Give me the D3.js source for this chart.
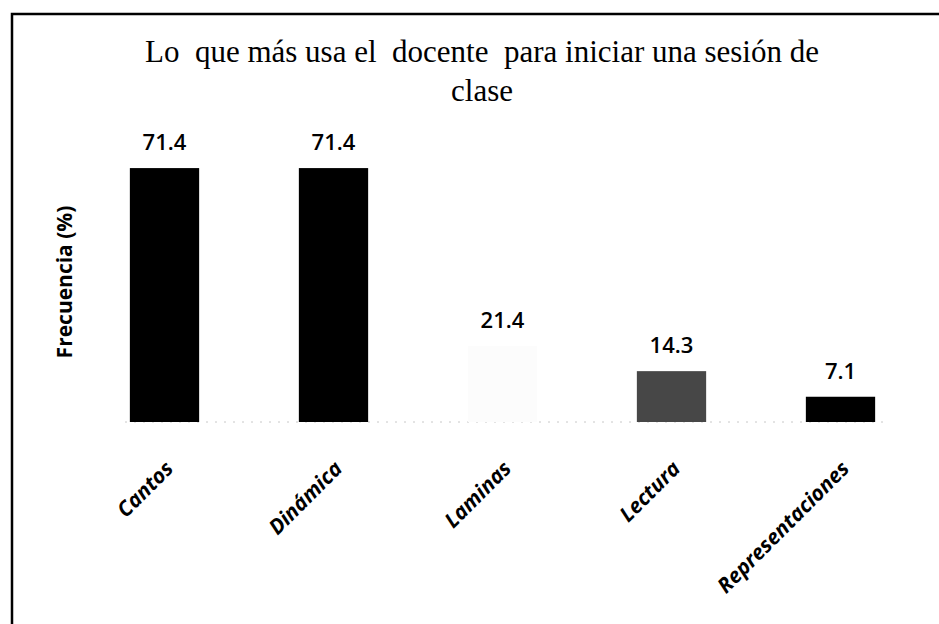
<!DOCTYPE html>
<html>
<head>
<meta charset="utf-8">
<script src="https://cdn.jsdelivr.net/npm/d3@7"></script>
<style>
  body { margin: 0; background: #fff; }
  svg { display: block; }
</style>
</head>
<body>
<svg width="939" height="624"></svg>
<script>
const categories = ['Cantos', 'Dinámica', 'Laminas', 'Lectura', 'Representaciones'];
const values = [71.4, 71.4, 21.4, 14.3, 7.1];
const barColors = ['#000000', '#000000', '#fcfcfc', '#474747', '#000000'];
const titleLines = ['Lo  que más usa el  docente  para iniciar una sesión de', 'clase'];
const yLabel = 'Frecuencia (%)';

const svg = d3.select('svg');
const width = +svg.attr('width');
const height = +svg.attr('height');

// frame (right and bottom edges run off the page, as in the scan)
svg.append('path')
    .attr('d', `M12,${height + 5} L12,14 L${width + 5},14`)
    .attr('fill', 'none')
    .attr('stroke', '#000')
    .attr('stroke-width', 2.5);

const x = d3.scaleBand()
    .domain(categories)
    .range([80, 925])
    .paddingInner(0.59)
    .paddingOuter(0.295);

const y = d3.scaleLinear()
    .domain([0, 80])
    .range([422, 137.5]);

// title
const title = svg.append('text')
    .attr('x', 482)
    .attr('y', 62)
    .attr('text-anchor', 'middle')
    .style('font-family', '"Liberation Serif", "Times New Roman", serif')
    .style('font-size', '31px')
    .style('white-space', 'pre')
    .attr('xml:space', 'preserve');
title.selectAll('tspan')
    .data(titleLines)
    .join('tspan')
    .attr('x', 482)
    .attr('dy', (d, i) => i === 0 ? 0 : 39)
    .text(d => d);

// y axis title
svg.append('text')
    .attr('transform', `translate(72, 282) rotate(-90)`)
    .attr('text-anchor', 'middle')
    .style('font-family', '"Open Sans", sans-serif')
    .style('font-weight', 700)
    .style('font-size', '21px')
    .text(yLabel);

// faint baseline
svg.append('line')
    .attr('x1', 125)
    .attr('x2', 885)
    .attr('y1', y(0))
    .attr('y2', y(0))
    .attr('stroke', '#c8c8c8')
    .attr('stroke-dasharray', '2,7');

// bars
svg.append('g')
  .selectAll('rect')
  .data(values)
  .join('rect')
    .attr('x', (d, i) => x(categories[i]))
    .attr('y', d => y(d))
    .attr('width', x.bandwidth())
    .attr('height', d => y(0) - y(d))
    .attr('fill', (d, i) => barColors[i]);

// value labels
svg.append('g')
  .selectAll('text')
  .data(values)
  .join('text')
    .attr('x', (d, i) => x(categories[i]) + x.bandwidth() / 2)
    .attr('y', d => y(d) - 18)
    .attr('text-anchor', 'middle')
    .style('font-family', '"Open Sans", sans-serif')
    .style('font-weight', 600)
    .style('font-size', '22px')
    .text(d => d.toFixed(1));

// category labels, rotated
const xAxis = d3.axisBottom(x).tickSize(0).tickPadding(0);
const axisG = svg.append('g')
    .attr('transform', `translate(0, ${y(0)})`)
    .call(xAxis);
axisG.select('.domain').remove();
axisG.selectAll('text')
    .attr('text-anchor', 'end')
    .attr('dy', 0)
    .attr('transform', 'translate(10, 48) rotate(-45)')
    .style('font-family', '"Open Sans", sans-serif')
    .style('font-weight', 700)
    .style('font-style', 'italic')
    .style('font-size', '21px')
    .attr('fill', '#000');
</script>
</body>
</html>
